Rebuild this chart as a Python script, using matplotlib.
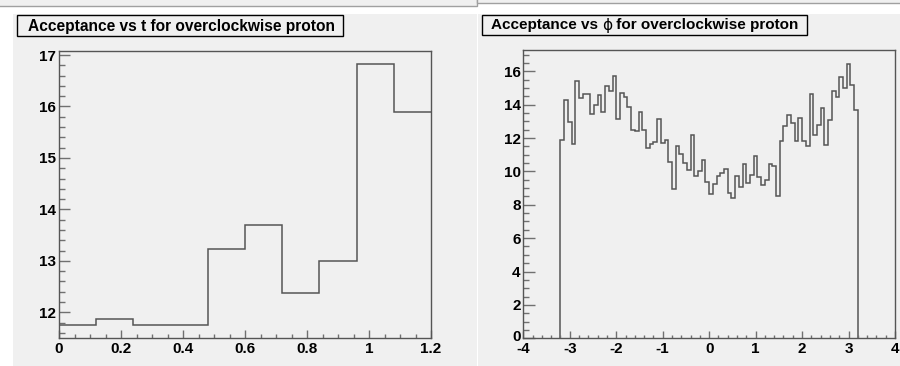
import numpy as np
import matplotlib
matplotlib.use("Agg")
import matplotlib.pyplot as plt
import matplotlib.transforms as mtransforms
from matplotlib.patches import Rectangle
from matplotlib.ticker import MultipleLocator, FormatStrFormatter

# ---- data -------------------------------------------------------------
t_range = (0.0, 1.2)
t_acc = [11.75, 11.88, 11.75, 11.75, 13.23, 13.69, 12.38, 13.00, 16.83, 15.89]

phi_range = (-3.2, 3.2)
phi_acc = [
    11.87, 14.29, 12.94, 11.66, 15.43, 14.41, 14.65, 14.65, 13.41, 14.00,
    14.55, 13.57, 15.09, 14.81, 15.69, 13.16, 14.71, 14.45, 13.87, 12.50,
    12.40, 13.57, 12.50, 11.42, 11.66, 11.78, 13.16, 11.68, 11.86, 10.59,
    8.93, 11.52, 11.06, 10.53, 10.11, 12.20, 9.71, 10.05, 10.71, 9.35,
    8.67, 9.25, 9.71, 9.93, 10.17, 8.73, 8.41, 9.73, 9.05, 10.47,
    9.33, 9.81, 10.92, 9.65, 9.21, 9.47, 10.44, 10.35, 8.55, 11.80,
    12.70, 13.40, 12.88, 11.80, 13.18, 11.80, 11.50, 14.61, 12.20, 12.76,
    13.82, 11.58, 13.08, 14.83, 14.43, 15.67, 14.99, 16.45, 15.17, 13.70,
]

title_t = ["Acceptance vs t for overclockwise proton"]
title_phi = ["Acceptance vs ", "\u03d5", " for overclockwise proton"]

# ---- style ------------------------------------------------------------
plt.rcParams['font.family'] = ['Liberation Sans', 'DejaVu Sans']
plt.rcParams['font.weight'] = 'bold'

PAD = '#f0f0f0'
LINE = '#555555'
TICK = '#707070'
FS_TICK = 11

W, H = 900, 366
fig = plt.figure(figsize=(W / 100, H / 100), dpi=100, facecolor='white')


def fx(px):
    return px / W


def fy(py):
    return 1 - py / H


def rect(x0, y0, x1, y1, fc, ec='none', lw=0.0, z=0):
    fig.add_artist(Rectangle((fx(x0), fy(y1)), fx(x1) - fx(x0), fy(y0) - fy(y1),
                             transform=fig.transFigure, facecolor=fc,
                             edgecolor=ec, linewidth=lw, zorder=z))


# canvas strips and pads
rect(-2, -2, 477, 6, PAD, '#a0a0a0', 1.0)
rect(477, -2, 902, 2.5, PAD, '#a0a0a0', 1.0)
rect(13, 14, 477, 367, PAD)
rect(478, 14, 901, 367, PAD)


def make_axes(x0, y0, x1, y1):
    ax = fig.add_axes([fx(x0), fy(y1), fx(x1) - fx(x0), fy(y0) - fy(y1)])
    ax.set_facecolor(PAD)
    for s in ax.spines.values():
        s.set_color(LINE)
        s.set_linewidth(1.0)
    ax.tick_params(which='both', direction='in', top=False, right=False,
                   color=TICK, labelsize=FS_TICK, width=1.0)
    ax.tick_params(axis='y', pad=2)
    ax.tick_params(axis='x', pad=2.5)
    return ax


def title_box(x0, y0, x1, y1, tx, parts, size):
    """Framed title; the Greek letter piece is set in a regular weight."""
    rect(x0, y0, x1, y1, PAD, 'black', 1.0, z=2)
    renderer = fig.canvas.get_renderer()
    x = tx
    yc = fy((y0 + y1) / 2 + 0.5)
    for piece in parts:
        greek = piece == "\u03d5"
        t = fig.text(fx(x), yc, piece, fontsize=size,
                     fontweight='normal' if greek else 'bold',
                     family=['DejaVu Sans'] if greek else ['Liberation Sans', 'DejaVu Sans'],
                     va='center', ha='left', zorder=3)
        bb = t.get_window_extent(renderer=renderer)
        x += bb.width


# ---- left: acceptance vs t -------------------------------------------
ax1 = make_axes(59, 50.7, 431, 338.3)
t_edges = np.linspace(t_range[0], t_range[1], len(t_acc) + 1)
ax1.stairs(t_acc, t_edges, baseline=None, color=LINE, linewidth=1.1)
ax1.set_xlim(0, 1.2)
ax1.set_ylim(11.496, 17.084)
ax1.xaxis.set_major_locator(MultipleLocator(0.2))
ax1.xaxis.set_minor_locator(MultipleLocator(0.05))
ax1.yaxis.set_major_locator(MultipleLocator(1))
ax1.yaxis.set_minor_locator(MultipleLocator(0.2))
ax1.xaxis.set_major_formatter(FormatStrFormatter('%g'))
ax1.yaxis.set_major_formatter(FormatStrFormatter('%g'))
ax1.tick_params(axis='y', which='major', length=8)
ax1.tick_params(axis='y', which='minor', length=4)
ax1.tick_params(axis='x', which='major', length=6)
ax1.tick_params(axis='x', which='minor', length=3)
title_box(17, 15, 343, 36, 28, title_t, 11.2)

# ---- right: acceptance vs phi ----------------------------------------
ax2 = make_axes(523.3, 50, 895, 338.3)
phi_edges = np.linspace(phi_range[0], phi_range[1], len(phi_acc) + 1)
ax2.stairs(phi_acc, phi_edges, baseline=0, color=LINE, linewidth=1.1)
ax2.set_xlim(-4, 4)
ax2.set_ylim(0, 1.05 * max(phi_acc))
ax2.xaxis.set_major_locator(MultipleLocator(1))
ax2.xaxis.set_minor_locator(MultipleLocator(0.2))
ax2.yaxis.set_major_locator(MultipleLocator(2))
ax2.yaxis.set_minor_locator(MultipleLocator(0.5))
ax2.xaxis.set_major_formatter(FormatStrFormatter('%g'))
ax2.yaxis.set_major_formatter(FormatStrFormatter('%g'))
ax2.tick_params(axis='y', which='major', length=8.5)
ax2.tick_params(axis='y', which='minor', length=4.2)
ax2.tick_params(axis='x', which='major', length=5)
ax2.tick_params(axis='x', which='minor', length=2.5)
title_box(482, 15, 807, 35, 491, title_phi, 10.95)

# lift the "0" on the phi y axis clear of the "-4" below it
fig.canvas.draw()
for lab in ax2.get_yticklabels():
    if lab.get_text() == '0':
        lab.set_transform(lab.get_transform() +
                          mtransforms.ScaledTranslation(0, 3 / 100, fig.dpi_scale_trans))

fig.savefig('out.png', dpi=100, facecolor='white')
